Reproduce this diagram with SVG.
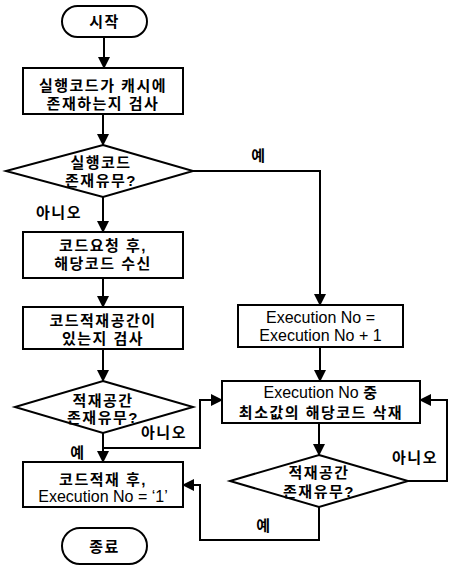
<svg xmlns="http://www.w3.org/2000/svg" width="450" height="572" viewBox="0 0 450 572">
<defs>
<marker id="ah" markerWidth="12" markerHeight="12" refX="11" refY="6" orient="auto" markerUnits="userSpaceOnUse">
<path d="M0,0 L12,6 L0,12 Z" fill="#000"/>
</marker>
<style>
.s{fill:#fff;stroke:#000;stroke-width:2}
.c{fill:none;stroke:#000;stroke-width:2;marker-end:url(#ah)}
text{font-family:"Liberation Sans","Noto Sans CJK KR",sans-serif;font-size:15px;text-anchor:middle;fill:#000}
.k{font-weight:bold;letter-spacing:1.5px}
.e{font-size:16px;font-weight:normal;letter-spacing:0}
</style>
</defs>
<rect width="450" height="572" fill="#fff"/>
<g id="connectors">
<path class="c" d="M104,37 V68"/>
<path class="c" d="M103,114 V145"/>
<path class="c" d="M103,197 V232"/>
<path class="c" d="M193,171 H320 V305"/>
<path class="c" d="M103,278 V307"/>
<path class="c" d="M103,349 V381"/>
<path class="c" d="M103,433 V462"/>
<path class="c" d="M103,448 H200 V400 H222"/>
<path class="c" d="M320,347 V381"/>
<path class="c" d="M319,423 V455"/>
<path class="c" d="M408,481 H447 V400 H420"/>
<path class="c" d="M319,507 V540 H200 V485 H183"/>
<text class="k" x="59" y="218">아니오</text>
<text class="k" x="259" y="161">예</text>
<text class="k" x="78" y="458">예</text>
<text class="k" x="164" y="438">아니오</text>
<text class="k" x="415" y="463">아니오</text>
<text class="k" x="264" y="531">예</text>
</g>
<g id="start">
<rect class="s" x="62" y="6" width="85" height="31" rx="15.5"/>
<text class="k" x="104.5" y="27">시작</text>
</g>
<g id="check-cache">
<rect class="s" x="23" y="68" width="160" height="46"/>
<text class="k" x="103" y="91">실행코드가 캐시에</text>
<text class="k" x="103" y="109">존재하는지 검사</text>
</g>
<g id="code-exists">
<polygon class="s" points="103,145 193,171 103,197 6,171"/>
<text class="k" x="101" y="168">실행코드</text>
<text class="k" x="101" y="186">존재유무?</text>
</g>
<g id="request-code">
<rect class="s" x="23" y="232" width="160" height="46"/>
<text class="k" x="103" y="251">코드요청 후,</text>
<text class="k" x="103" y="269">해당코드 수신</text>
</g>
<g id="check-space">
<rect class="s" x="23" y="307" width="160" height="42"/>
<text class="k" x="103" y="326">코드적재공간이</text>
<text class="k" x="103" y="344">있는지 검사</text>
</g>
<g id="space-exists-1">
<polygon class="s" points="103,381 193,407 103,433 15,407"/>
<text class="k" x="103" y="406">적재공간</text>
<text class="k" x="103" y="423">존재유무?</text>
</g>
<g id="load-code">
<rect class="s" x="23" y="462" width="160" height="45"/>
<text class="k" x="103" y="485">코드적재 후,</text>
<text x="103" y="502"><tspan class="e">Execution No = ‘1’</tspan></text>
</g>
<g id="end">
<rect class="s" x="62" y="528" width="85" height="36" rx="18"/>
<text class="k" x="104.5" y="552">종료</text>
</g>
<g id="increment">
<rect class="s" x="238" y="305" width="165" height="42"/>
<text class="e" x="320.5" y="323">Execution No =</text>
<text class="e" x="320.5" y="341">Execution No + 1</text>
</g>
<g id="delete-min">
<rect class="s" x="222" y="381" width="198" height="42"/>
<text x="321" y="398"><tspan class="e">Execution No </tspan><tspan class="k">중</tspan></text>
<text class="k" x="321" y="418">최소값의 해당코드 삭재</text>
</g>
<g id="space-exists-2">
<polygon class="s" points="319,455 408,481 319,507 230,481"/>
<text class="k" x="319" y="478">적재공간</text>
<text class="k" x="319" y="497">존재유무?</text>
</g>
</svg>
